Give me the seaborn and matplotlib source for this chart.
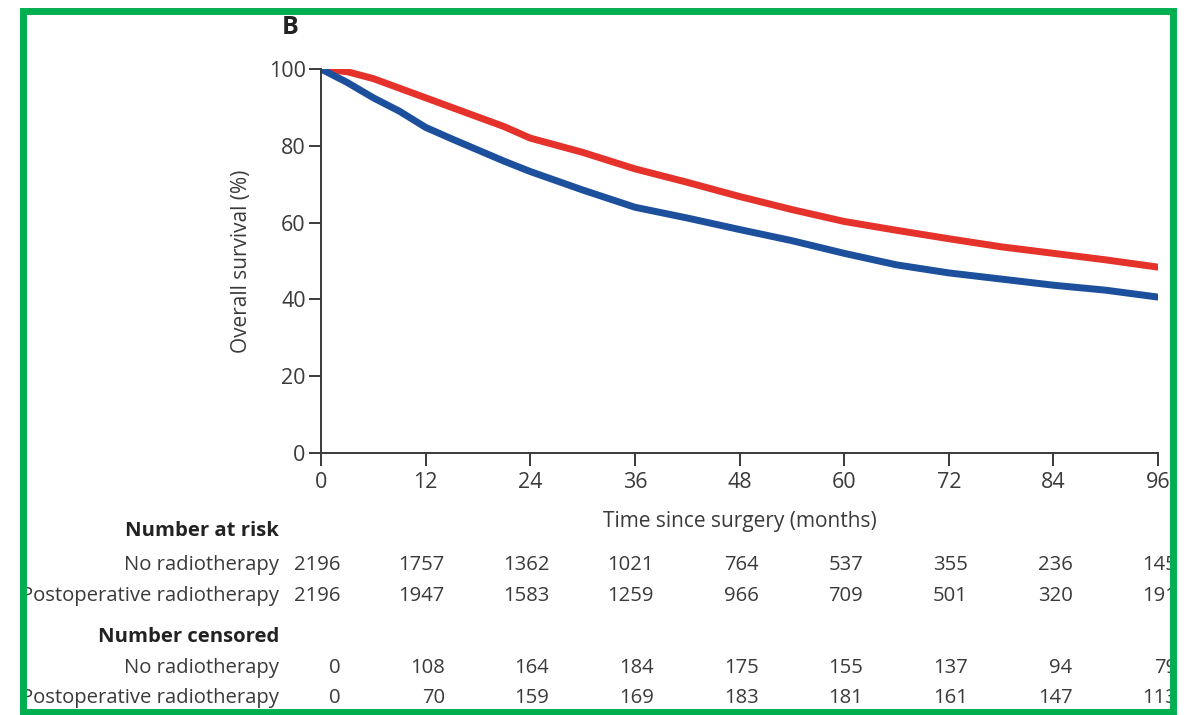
import matplotlib
matplotlib.use("Agg")
import matplotlib.pyplot as plt
import matplotlib.transforms as mtransforms
from matplotlib.patches import Rectangle
import seaborn as sns
import pandas as pd

# ---- data ----
months = [0, 3, 6, 9, 12, 15, 18, 21, 24, 30, 36, 42, 48, 54, 60, 66, 72, 78, 84, 90, 96]
surv_no_rt = [100, 96.5, 92.5, 89.0, 84.8, 81.8, 78.9, 76.0, 73.3, 68.5, 64.0, 61.2, 58.2,
              55.3, 52.0, 49.0, 46.9, 45.3, 43.7, 42.4, 40.6]
surv_post_rt = [100, 99.3, 97.5, 95.0, 92.5, 90.0, 87.5, 85.0, 82.0, 78.3, 74.0, 70.5, 66.8,
                63.4, 60.3, 58.0, 55.8, 53.7, 52.0, 50.3, 48.4]

groups = ["No radiotherapy", "Postoperative radiotherapy"]
xticks = [0, 12, 24, 36, 48, 60, 72, 84, 96]
yticks = [0, 20, 40, 60, 80, 100]
at_risk_no = [2196, 1757, 1362, 1021, 764, 537, 355, 236, 145]
at_risk_post = [2196, 1947, 1583, 1259, 966, 709, 501, 320, 191]
cens_no = [0, 108, 164, 184, 175, 155, 137, 94, 79]
cens_post = [0, 70, 159, 169, 183, 181, 161, 147, 113]

colors = {"No radiotherapy": "#1C4F9C", "Postoperative radiotherapy": "#E5322A"}

df = pd.concat([
    pd.DataFrame({"month": months, "surv": surv_no_rt, "group": groups[0]}),
    pd.DataFrame({"month": months, "surv": surv_post_rt, "group": groups[1]}),
])

sns.set_style("ticks")
FAM = ["Open Sans", "DejaVu Sans"]
plt.rcParams["font.family"] = FAM
TXT = "#3a3a3a"

W, H = 1184, 715
fig = plt.figure(figsize=(W / 100, H / 100), dpi=100)
ax = fig.add_axes([321 / W, 1 - 453 / H, (1158 - 321) / W, (453 - 69) / H])

sns.lineplot(data=df, x="month", y="surv", hue="group", palette=colors,
             estimator=None, linewidth=5.0, legend=False, ax=ax,
             hue_order=[groups[1], groups[0]])

ax.set_xlim(0, 96)
ax.set_ylim(0, 100)
ax.set_xticks(xticks)
ax.set_yticks(yticks)
for s in ["top", "right"]:
    ax.spines[s].set_visible(False)
for s in ["left", "bottom"]:
    ax.spines[s].set_color(TXT)
    ax.spines[s].set_linewidth(1.4)
ax.tick_params(axis="both", direction="out", length=9, width=1.4, color=TXT,
               labelcolor=TXT, labelsize=15.5)
ax.tick_params(axis="x", pad=5)
ax.tick_params(axis="y", pad=2)
ax.set_xlabel("Time since surgery (months)", fontsize=15, color=TXT, labelpad=13)
ax.set_ylabel("Overall survival (%)", fontsize=15, color=TXT, labelpad=12)

fig.text(290 / W, 1 - 27 / H, "B", fontsize=18, fontweight="bold", color="#222222",
         ha="center", va="center")

# ---- number at risk / censored table ----
trans = mtransforms.blended_transform_factory(ax.transData, fig.transFigure)
label_x = 279 / W
rows = [
    ("Number at risk", None, 531, True),
    ("No radiotherapy", at_risk_no, 565, False),
    ("Postoperative radiotherapy", at_risk_post, 596, False),
    ("Number censored", None, 637, True),
    ("No radiotherapy", cens_no, 668, False),
    ("Postoperative radiotherapy", cens_post, 698, False),
]
for label, vals, ypx, bold in rows:
    yf = 1 - ypx / H
    fig.text(label_x, yf, label, fontsize=14.6, ha="right", va="center",
             color="#222222" if bold else TXT, fontweight="bold" if bold else "normal")
    if vals is not None:
        for t, v in zip(xticks, vals):
            fig.text(t + 2.2, yf, str(v), transform=trans, fontsize=14.6, ha="right",
                     va="center", color=TXT)

# ---- green frame ----
frame = Rectangle((23 / W, 3 / H), (1173 - 23) / W, (704 - 3) / H, transform=fig.transFigure,
                  fill=False, edgecolor="#00B050", linewidth=5, zorder=20)
fig.add_artist(frame)

fig.savefig("out.png", dpi=100, facecolor="white")
